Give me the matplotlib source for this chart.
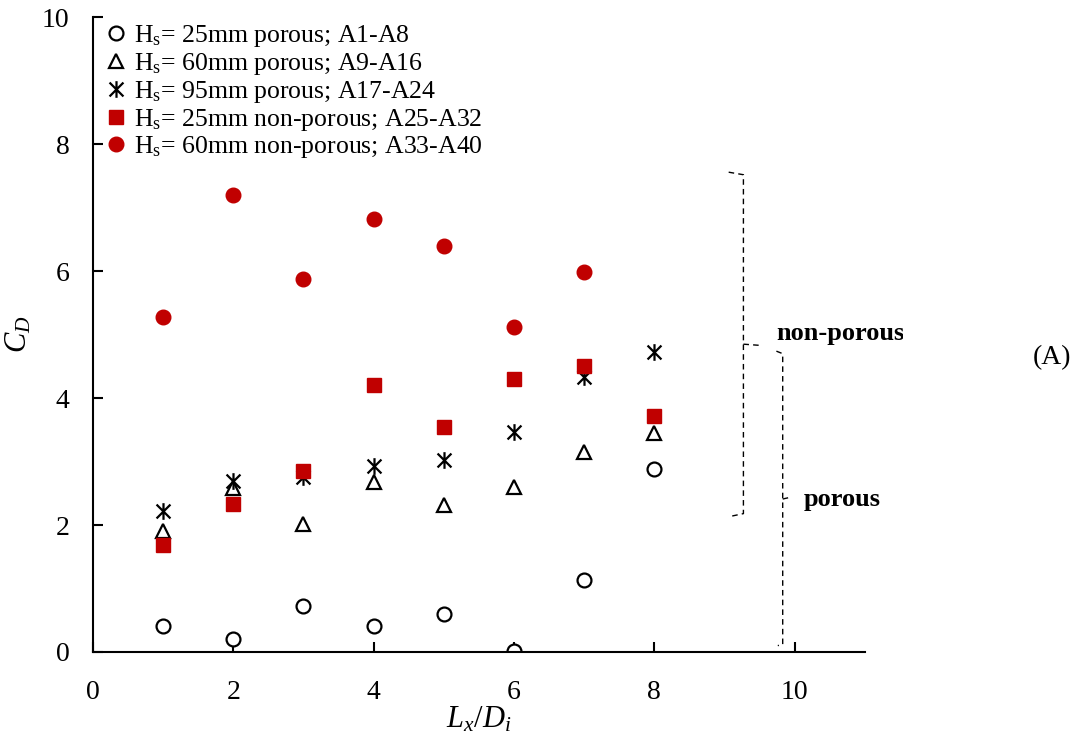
import numpy as np
import matplotlib
matplotlib.use('Agg')
from matplotlib import pyplot as plt
from matplotlib.path import Path
from matplotlib.transforms import Bbox, TransformedBbox

plt.rcParams['font.family'] = 'Liberation Serif'
plt.rcParams['mathtext.fontset'] = 'custom'
plt.rcParams['mathtext.rm'] = 'Liberation Serif'
plt.rcParams['mathtext.it'] = 'Liberation Serif:italic'
plt.rcParams['mathtext.bf'] = 'Liberation Serif:bold'

# data
x = [1, 2, 3, 4, 5, 6, 7, 8]
hs25_porous = [0.41, 0.20, 0.72, 0.41, 0.60, 0.02, 1.13, 2.88]
hs60_porous = [1.91, 2.58, 2.02, 2.68, 2.31, 2.60, 3.15, 3.45]
hs95_porous = [2.22, 2.69, 2.76, 2.93, 3.02, 3.46, 4.33, 4.72]
hs25_solid = [1.69, 2.33, 2.85, 4.20, 3.54, 4.30, 4.50, 3.72]
x_hs60_solid = [1, 2, 3, 4, 5, 6, 7]
hs60_solid = [5.28, 7.20, 5.87, 6.83, 6.39, 5.12, 5.98]

labels = [r'H$_\mathregular{s}$= 25mm porous; A1-A8',
          r'H$_\mathregular{s}$= 60mm porous; A9-A16',
          r'H$_\mathregular{s}$= 95mm porous; A17-A24',
          r'H$_\mathregular{s}$= 25mm non-porous; A25-A32',
          r'H$_\mathregular{s}$= 60mm non-porous; A33-A40']

red = '#C00000'

# asterisk marker: X plus a vertical bar
star = Path([(-1, -1), (1, 1), (-1, 1), (1, -1), (0, -1.2), (0, 1.2)],
            [Path.MOVETO, Path.LINETO, Path.MOVETO, Path.LINETO, Path.MOVETO, Path.LINETO])

fig = plt.figure(figsize=(10.81, 7.44), dpi=100)
ax = fig.add_axes([0.086, 0.1237, 0.714, 0.853])

ax.plot(x, hs25_porous, 'o', ms=10, mfc='white', mec='black', mew=1.6, ls='none', label=labels[0])
ax.plot(x, hs60_porous, '^', ms=10, mfc='white', mec='black', mew=1.6, ls='none', label=labels[1])
ax.plot(x, hs95_porous, marker=star, ms=12, mfc='none', mec='black', mew=1.6, ls='none', label=labels[2])
ax.plot(x, hs25_solid, 's', ms=10, color=red, ls='none', label=labels[3])
ax.plot(x_hs60_solid, hs60_solid, 'o', ms=10.5, color=red, ls='none', label=labels[4])

ax.set_xlim(0, 11)
ax.set_ylim(0, 10)
ax.set_xticks([0, 2, 4, 6, 8, 10])
ax.set_yticks([0, 2, 4, 6, 8, 10])
ax.tick_params(direction='in', length=7, width=1.5, labelsize=20)
ax.tick_params(axis='x', pad=20)
ax.tick_params(axis='y', pad=17)
for s in ['top', 'right']:
    ax.spines[s].set_visible(False)
for s in ['left', 'bottom']:
    ax.spines[s].set_linewidth(1.5)

ax.set_xlabel(r'$L_x/D_i$', fontsize=22, labelpad=0)
ax.set_ylabel(r'$C_D$', fontsize=22, labelpad=6)

ax.legend(loc='upper left', bbox_to_anchor=(0.0, 1.015), frameon=False, fontsize=18.5,
          handlelength=0.6, handletextpad=0.4, labelspacing=0.07, borderpad=0.3,
          borderaxespad=0.3)

# dashed braces
kw = dict(color='black', lw=1, ls=(0, (4, 3)), clip_on=False)
ax.plot([9.06, 9.27, 9.27, 9.10], [7.56, 7.52, 2.18, 2.14], **kw)
ax.plot([9.27, 9.52], [4.85, 4.83], **kw)
ax.plot([9.74, 9.83, 9.83, 9.76], [4.74, 4.70, 0.12, 0.10], **kw)
ax.plot([9.83, 9.91], [2.41, 2.43], **kw)

t = ax.text(9.74, 5.02, 'non-porous', fontsize=19, fontweight='bold', va='center', ha='left')
t.set_clip_box(TransformedBbox(Bbox([[0, 0], [903 / 1081, 1]]), fig.transFigure))
t.set_clip_on(True)
ax.text(10.13, 2.41, 'porous', fontsize=19, fontweight='bold', va='center', ha='left')

fig.text(0.955, 0.519, '(A)', fontsize=20, va='center', ha='left')

plt.savefig('out.png', dpi=100)
